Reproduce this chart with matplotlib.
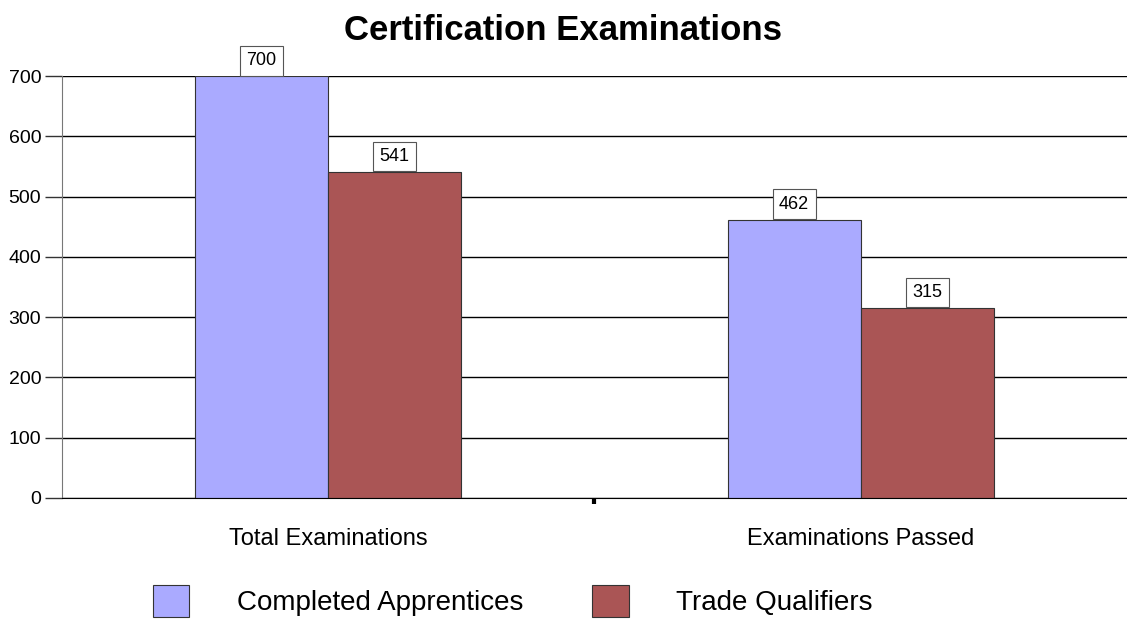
import numpy as np
import matplotlib.pyplot as plt

plt.rcParams['font.family'] = ['Liberation Sans', 'DejaVu Sans']

categories = ['Total Examinations', 'Examinations Passed']
series_names = ['Completed Apprentices', 'Trade Qualifiers']
apprentices = [700, 462]
qualifiers = [541, 315]
colors = ['#AAAAFF', '#AA5555']

fig = plt.figure(figsize=(11.27, 6.2), dpi=100)
ax = fig.add_axes([0.055, 0.197, 0.945, 0.680])

x = np.arange(len(categories))
w = 0.25
b1 = ax.bar(x - w / 2, apprentices, w, color=colors[0], edgecolor='#333333', linewidth=0.8, label=series_names[0], zorder=3)
b2 = ax.bar(x + w / 2, qualifiers, w, color=colors[1], edgecolor='#333333', linewidth=0.8, label=series_names[1], zorder=3)

# value boxes sitting on top of the bars
fs = 13
pad = 0.35
for bars, vals in [(b1, apprentices), (b2, qualifiers)]:
    for rect, v in zip(bars, vals):
        ax.annotate(str(v), (rect.get_x() + rect.get_width() / 2, v),
                    xytext=(0, pad * fs + 0.5), textcoords='offset points',
                    ha='center', va='bottom', fontsize=fs, zorder=5,
                    bbox=dict(boxstyle='square,pad=%s' % pad, fc='white', ec='#555555', lw=0.8))

ax.set_xlim(-0.5, 1.5)
ax.set_ylim(0, 700)
ax.set_yticks(range(0, 701, 100))
ax.tick_params(axis='y', labelsize=14, length=12, width=1, color='#333333', pad=3)
ax.set_xticks(x)
ax.set_xticklabels(categories, fontsize=17)
ax.tick_params(axis='x', length=0, pad=22)
ax.set_xticks([0.5], minor=True)
ax.tick_params(axis='x', which='minor', length=4, width=3, color='black')

ax.yaxis.grid(True, color='black', linewidth=1, zorder=0)
ax.set_axisbelow(True)
for s in ['top', 'right']:
    ax.spines[s].set_visible(False)
ax.spines['left'].set_color('#777777')
ax.spines['bottom'].set_color('black')
ax.spines['bottom'].set_zorder(4)

fig.suptitle('Certification Examinations', fontsize=25, fontweight='bold', y=0.978)

fig.legend(handles=[b1, b2], labels=series_names, loc='lower center', ncol=2,
           bbox_to_anchor=(0.455, -0.035), frameon=False, fontsize=20,
           handlelength=1.3, handleheight=1.4, handletextpad=1.7, columnspacing=2.5)

fig.savefig('out.png', dpi=100)
